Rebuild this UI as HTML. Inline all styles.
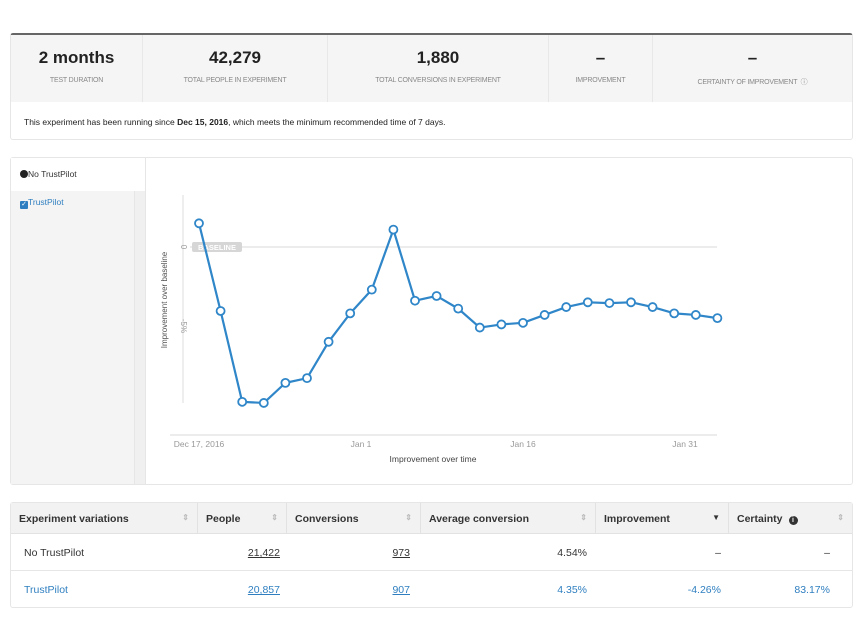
<!DOCTYPE html>
<html><head><meta charset="utf-8"><style>
body{margin:0;width:862px;height:633px;background:#fff;font-family:"Liberation Sans",sans-serif;position:relative;overflow:hidden;color:#333}
.abs{position:absolute;box-sizing:border-box}
.card{border:1px solid #e6e6e6;border-radius:3px;background:#fff}
.stat{top:0;height:67px;text-align:center;border-right:1px solid #e8e8e8}
.stat b{display:block;font-size:17px;margin-top:13px;color:#222}
.stat span{display:block;font-size:7px;color:#888;margin-top:9px;letter-spacing:-0.2px}
.hc{top:0;height:31px;border-right:1px solid #e2e2e2;font-size:10.5px;font-weight:bold;padding:10px 8px;color:#333;white-space:nowrap;line-height:12px}
.hc i{position:absolute;right:8px;top:9px;font-style:normal;color:#bbb;font-size:8px}
.cell{font-size:10.5px;height:37px;padding-top:13px}
.lnk{text-decoration:underline}
.info{display:inline-block;width:9px;height:9px;border-radius:50%;background:#333;color:#fff;font-size:7px;line-height:9px;text-align:center;vertical-align:0;margin-left:6px}
</style></head><body>
<div class="abs card" style="left:10px;top:33px;width:843px;height:107px;border-top:2px solid #666">
  <div class="abs" style="left:0;top:0;width:841px;height:67px;background:#f5f5f5"></div>
  <div class="abs stat" style="left:0;width:132px"><b>2 months</b><span>TEST DURATION</span></div>
  <div class="abs stat" style="left:132px;width:185px"><b>42,279</b><span>TOTAL PEOPLE IN EXPERIMENT</span></div>
  <div class="abs stat" style="left:317px;width:221px"><b>1,880</b><span>TOTAL CONVERSIONS IN EXPERIMENT</span></div>
  <div class="abs stat" style="left:538px;width:104px"><b>–</b><span>IMPROVEMENT</span></div>
  <div class="abs stat" style="left:642px;width:199px;border-right:none"><b>–</b><span>CERTAINTY OF IMPROVEMENT &nbsp;ⓘ</span></div>
  <div class="abs" style="left:13px;top:82px;font-size:8.5px;color:#222">This experiment has been running since <b>Dec 15, 2016</b>, which meets the minimum recommended time of 7 days.</div>
</div>

<div class="abs card" style="left:10px;top:157px;width:843px;height:328px">
  <div class="abs" style="left:0;top:0;width:135px;height:326px;background:#f4f4f4;border-right:1px solid #e6e6e6">
    <div class="abs" style="left:123px;top:33px;width:11px;height:293px;background:#f0f0f0;border-left:1px solid #e6e6e6"></div>
    <div class="abs" style="left:0;top:0;width:134px;height:33px;background:#fff;font-size:8.5px;padding:11px 0 0 9px;color:#333"><span style="display:inline-block;width:8px;height:8px;border-radius:50%;background:#222;vertical-align:-1px"></span>No TrustPilot</div>
    <div class="abs" style="left:9px;top:39px;font-size:8.5px;color:#2f7fc0"><span style="display:inline-block;width:8px;height:8px;border-radius:1px;background:#2f7fc0;color:#fff;font-size:7px;line-height:8px;text-align:center;vertical-align:-1px">✓</span>TrustPilot</div>
  </div>
</div>

<svg class="abs" style="left:0;top:0" width="862" height="633">
  <g id="g"></g>
</svg>

<div class="abs card" style="left:10px;top:502px;width:843px;height:106px">
  <div class="abs" style="left:0;top:0;width:841px;height:31px;background:#f2f2f2;border-bottom:1px solid #e2e2e2"></div>
  <div class="abs hc" style="left:0;width:187px">Experiment variations<i>⇕</i></div>
  <div class="abs hc" style="left:187px;width:89px">People<i>⇕</i></div>
  <div class="abs hc" style="left:276px;width:134px">Conversions<i>⇕</i></div>
  <div class="abs hc" style="left:410px;width:175px">Average conversion<i>⇕</i></div>
  <div class="abs hc" style="left:585px;width:133px">Improvement<i style="color:#333">▼</i></div>
  <div class="abs hc" style="left:718px;width:123px;border-right:none">Certainty<span class="info">i</span><i>⇕</i></div>
  <div class="abs" style="left:0;top:67px;width:841px;height:1px;background:#e6e6e6"></div>
  <div class="abs cell" style="left:13px;top:31px">No TrustPilot</div>
  <div class="abs cell lnk" style="right:572px;top:31px">21,422</div>
  <div class="abs cell lnk" style="right:442px;top:31px">973</div>
  <div class="abs cell" style="right:265px;top:31px">4.54%</div>
  <div class="abs cell" style="right:131px;top:31px">–</div>
  <div class="abs cell" style="right:22px;top:31px">–</div>
  <div class="abs cell" style="left:13px;top:68px;color:#2f7fc0">TrustPilot</div>
  <div class="abs cell lnk" style="right:572px;top:68px;color:#2f7fc0">20,857</div>
  <div class="abs cell lnk" style="right:442px;top:68px;color:#2f7fc0">907</div>
  <div class="abs cell" style="right:265px;top:68px;color:#2f7fc0">4.35%</div>
  <div class="abs cell" style="right:131px;top:68px;color:#2f7fc0">-4.26%</div>
  <div class="abs cell" style="right:22px;top:68px;color:#2f7fc0">83.17%</div>
</div>

<script>
const dayOffsets=[0,2,4,6,8,10,12,14,16,18,20,22,24,26,28,30,32,34,36,38,40,42,44,46,48];
const improvements=[1.5,-4.05,-9.8,-9.87,-8.6,-8.3,-6.0,-4.2,-2.7,1.1,-3.4,-3.1,-3.9,-5.1,-4.9,-4.8,-4.3,-3.8,-3.5,-3.55,-3.5,-3.8,-4.2,-4.3,-4.5];
const xTickDays=[0,15,30,45];
const xTickLabels=["Dec 17, 2016","Jan 1","Jan 16","Jan 31"];
const yTickValues=[0,-5];
const yTickLabels=["0","-5%"];

const NS="http://www.w3.org/2000/svg";
const g=document.getElementById('g');
const xs=d=>199+d*10.8;
const ys=v=>247-v*15.8;
function mk(t,a,parent){const e=document.createElementNS(NS,t);for(const k in a)e.setAttribute(k,a[k]);(parent||g).appendChild(e);return e;}

let e;
e=mk('line',{x1:183,y1:195,x2:183,y2:403,stroke:'#ddd','stroke-width':1});


e=mk('line',{x1:170,y1:435,x2:717,y2:435,stroke:'#e6e6e6','stroke-width':1.5});


e=mk('line',{x1:190,y1:ys(0),x2:717,y2:ys(0),stroke:'#d8d8d8','stroke-width':1});


e=mk('rect',{x:192,y:ys(0)-5,width:50,height:10,rx:2,fill:'#d6d6d6'});


e=mk('text',{x:217,y:ys(0)+3,'text-anchor':'middle','font-size':7.5,fill:'#fff','font-weight':'bold'});
e.textContent='BASELINE';



yTickValues.forEach((v,i)=>{
  const t=mk('text',{x:0,y:0,'font-size':8,fill:'#999','text-anchor':'middle',transform:`translate(181,${ys(v)}) rotate(90)`});
  t.textContent=yTickLabels[i];
  
  
});
e=mk('text',{x:0,y:0,'font-size':8,fill:'#555','text-anchor':'middle',transform:'translate(167,300) rotate(-90)'});
e.textContent='Improvement over baseline';



xTickDays.forEach((d,i)=>{
  const t=mk('text',{x:xs(d),y:447,'font-size':8.5,fill:'#999','text-anchor':'middle'});
  t.textContent=xTickLabels[i];
  
  
});
e=mk('text',{x:433,y:462,'font-size':8.5,fill:'#444','text-anchor':'middle'});
e.textContent='Improvement over time';



const pts=dayOffsets.map((d,i)=>xs(d)+','+ys(improvements[i])).join(' ');
e=mk('polyline',{points:pts,fill:'none',stroke:'#2f86c8','stroke-width':2.2,'stroke-linejoin':'round'});


dayOffsets.forEach((d,i)=>{
  const c=mk('circle',{cx:xs(d),cy:ys(improvements[i]),r:4,fill:'#fff',stroke:'#2f86c8','stroke-width':1.8});
  
  
});
</script>
</body></html>
